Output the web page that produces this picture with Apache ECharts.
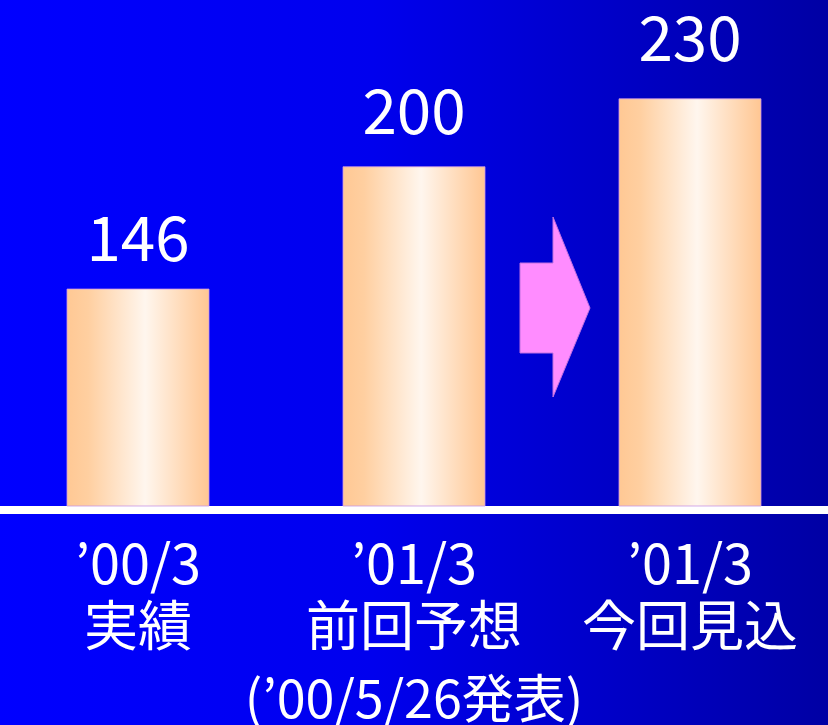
<!DOCTYPE html>
<html><head><meta charset="utf-8">
<script src="https://cdn.jsdelivr.net/npm/echarts@6/dist/echarts.min.js"></script>
<style>html,body{margin:0;padding:0;}#c{width:828px;height:725px;}</style>
</head><body><div id="c"></div>
<script>
const periods = ['’00/3', '’01/3', '’01/3'];
const kinds = ['実績', '前回予想', '今回見込'];
const notes = ['', '(’00/5/26発表)', ''];
const values = [146, 200, 230];

const chart = echarts.init(document.getElementById('c'), null, {renderer: 'canvas'});
const cats = periods.map((p, i) => i);
const font = '"Noto Sans CJK JP", "Noto Sans", sans-serif';
const labelGaps = [20, 25, 30];

chart.setOption({
  backgroundColor: {type: 'linear', x: 0, y: 0, x2: 1, y2: 0,
    colorStops: [{offset: 0, color: '#0000ff'}, {offset: 0.45, color: '#0000ee'}, {offset: 1, color: '#0000a4'}]},
  animation: false,
  grid: {left: -2, right: -3, top: 53, bottom: 219},
  xAxis: {
    type: 'category', data: cats, offset: 4,
    axisLine: {lineStyle: {color: '#ffffff', width: 8}},
    axisTick: {show: false},
    axisLabel: {
      margin: 22, interval: 0, hideOverlap: false,
      formatter: function (v, i) {
        let s = '{a|' + periods[i] + '}\n{b|' + kinds[i] + '}';
        if (notes[i]) s += '\n{c|' + notes[i] + '}';
        return s;
      },
      rich: {
        a: {color: '#fff', fontSize: 54, lineHeight: 62, fontFamily: font},
        b: {color: '#fff', fontSize: 54, lineHeight: 62, fontFamily: font},
        c: {color: '#fff', fontSize: 52, lineHeight: 84, fontFamily: font}
      }
    }
  },
  yAxis: {type: 'value', min: 50, max: 250, show: false, splitLine: {show: false}},
  series: [{
    type: 'bar',
    data: values.map((v, i) => ({value: v, label: {distance: labelGaps[i]}})),
    barWidth: 143,
    itemStyle: {
      color: {type: 'linear', x: 0, y: 0, x2: 1, y2: 0,
        colorStops: [{offset: 0, color: '#ffc894'}, {offset: 0.15, color: '#ffcfa0'}, {offset: 0.55, color: '#fff6ee'}, {offset: 0.85, color: '#ffd6b0'}, {offset: 1, color: '#ffc692'}]},
      borderColor: 'rgba(200,150,230,0.8)', borderWidth: 1
    },
    label: {show: true, position: 'top', color: '#fff', fontSize: 62, fontFamily: font}
  }],
  graphic: [{
    type: 'polygon', z: 10,
    shape: {points: [[520, 263], [553, 263], [553, 217], [590, 308], [553, 397], [553, 353], [520, 353]]},
    style: {fill: '#ff8cff', stroke: '#c070e0', lineWidth: 1}
  }]
});
</script></body></html>
